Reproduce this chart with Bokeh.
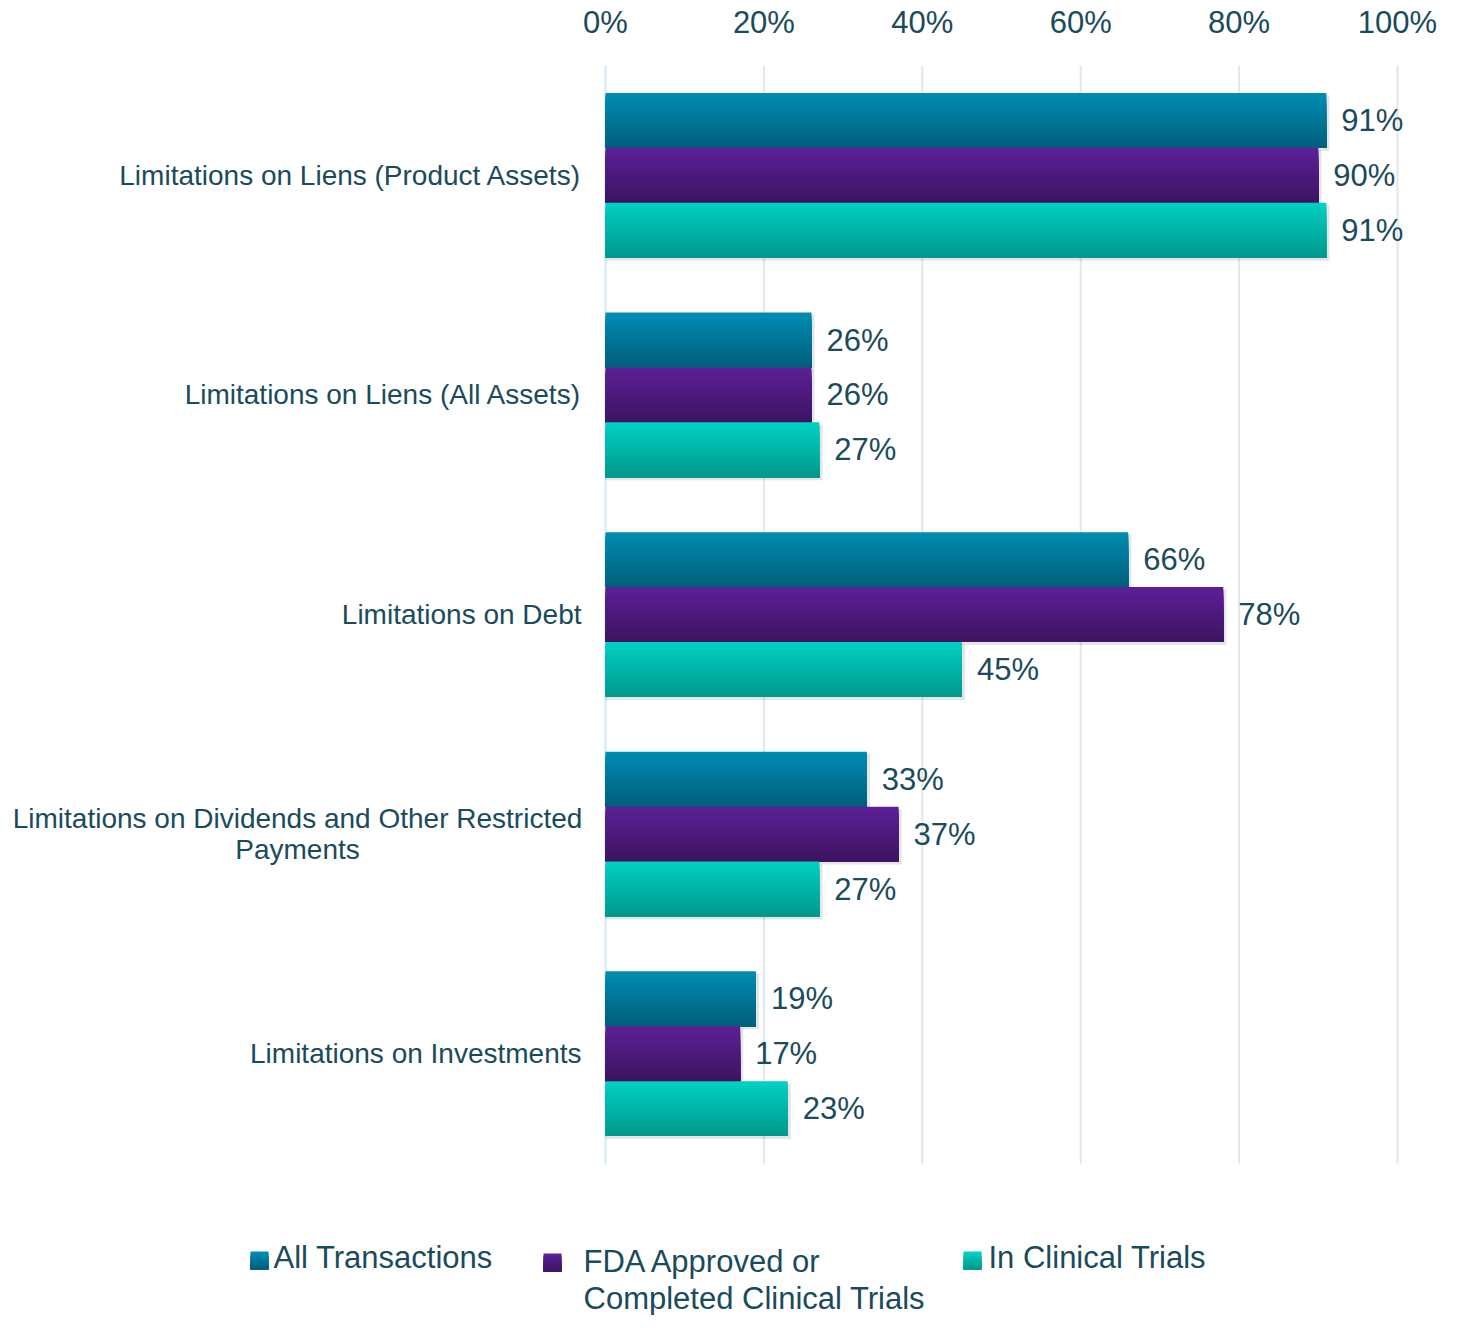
import numpy as np
from bokeh.plotting import figure
from bokeh.models import Range1d, FixedTicker
from bokeh.embed import file_html
from bokeh.resources import INLINE
from bokeh.core.properties import value

# ---------------- data ----------------
categories = [
    "Limitations on Liens (Product Assets)",
    "Limitations on Liens (All Assets)",
    "Limitations on Debt",
    "Limitations on Dividends and Other Restricted\nPayments",
    "Limitations on Investments",
]
series_names = ["All Transactions", "FDA Approved or\nCompleted Clinical Trials", "In Clinical Trials"]
all_transactions = [91, 26, 66, 33, 19]
fda_approved = [90, 26, 78, 37, 17]
in_clinical_trials = [91, 27, 45, 27, 23]
x_ticks = [0, 20, 40, 60, 80, 100]
x_tick_labels = ["0%", "20%", "40%", "60%", "80%", "100%"]

# ---------------- style ----------------
FONT = "Liberation Sans"
TXT = "#1a4b5c"
grad_top = ["#008cb2", "#5c1f96", "#00d0c2"]
grad_bot = ["#005f7c", "#3e1461", "#00998d"]
series_values = [all_transactions, fda_approved, in_clinical_trials]
bar_h = 0.25
n_strips = 24

W, H = 1441, 1315          # figure size
TOP = 65                   # top border for the axis
ZERO_PX = 605              # x pixel of 0 %
PX_PER_PCT = 7.92
PX_PER_CAT = 219.6
FRAME_H = H - TOP

x_start = -ZERO_PX / PX_PER_PCT
x_end = (W - ZERO_PX) / PX_PER_PCT
y_top = -0.5
y_bot = y_top + FRAME_H / PX_PER_CAT


def px2x(px):
    return (px - ZERO_PX) / PX_PER_PCT


def px2y(py):
    return (py - TOP) / PX_PER_CAT + y_top


def mix(c1, c2, t):
    a = [int(c1[i:i + 2], 16) for i in (1, 3, 5)]
    b = [int(c2[i:i + 2], 16) for i in (1, 3, 5)]
    return "#%02x%02x%02x" % tuple(int(round(a[j] + (b[j] - a[j]) * t)) for j in range(3))


p = figure(width=W, height=H, frame_width=W, frame_height=FRAME_H,
           x_range=Range1d(x_start, x_end), y_range=Range1d(y_bot, y_top),
           x_axis_location="above", y_axis_type=None,
           output_backend="svg", toolbar_location=None,
           min_border_left=0, min_border_right=0, min_border_top=TOP, min_border_bottom=0)
p.outline_line_color = None
p.xgrid.visible = False
p.ygrid.visible = False

n_cat = len(categories)
cat_idx = np.arange(n_cat)

# grid lines restricted to the plotting band
p.segment(x0=x_ticks, x1=x_ticks, y0=[-0.5] * len(x_ticks), y1=[n_cat - 0.5] * len(x_ticks),
          line_color=["#d3eaf3"] + ["#e4e6e8"] * (len(x_ticks) - 1), line_width=2)

# shadows
for s, vals in enumerate(series_values):
    base = cat_idx + (s - 1) * bar_h
    p.quad(left=0, right=np.array(vals) + 0.4, top=base - bar_h / 2 + 0.01,
           bottom=base + bar_h / 2 + 0.014, fill_color="#000000", fill_alpha=0.10, line_color=None)

# bars with vertical gradient (layered, no seams)
for s, vals in enumerate(series_values):
    base = cat_idx + (s - 1) * bar_h
    for k in range(n_strips):
        t = k / (n_strips - 1)
        p.quad(left=0, right=vals, top=base - bar_h / 2 + k * bar_h / n_strips,
               bottom=base + bar_h / 2, fill_color=mix(grad_top[s], grad_bot[s], t), line_color=None)
    p.text(x=vals, y=base, text=[f"{v}%" for v in vals], x_offset=15,
           text_align="left", text_baseline="middle", text_color=TXT,
           text_font=value(FONT), text_font_size="31px")

# category labels
single = [i for i, c in enumerate(categories) if "\n" not in c]
multi = [i for i, c in enumerate(categories) if "\n" in c]
p.text(x=[0] * len(single), y=[int(i) for i in single], text=[categories[i] for i in single],
       x_offset=-24, text_align="right", text_baseline="middle", text_color=TXT,
       text_font=value(FONT), text_font_size="28px")
p.text(x=[0] * len(multi), y=[int(i) for i in multi], text=[categories[i] for i in multi],
       x_offset=-308, text_align="center", text_baseline="middle", text_color=TXT,
       text_font=value(FONT), text_font_size="28px", text_line_height=1.0)

# top axis
xa = p.xaxis[0]
xa.ticker = FixedTicker(ticks=x_ticks)
xa.major_label_overrides = {t: l for t, l in zip(x_ticks, x_tick_labels)}
xa.axis_line_color = None
xa.major_tick_line_color = None
xa.minor_tick_line_color = None
xa.major_label_text_font = FONT
xa.major_label_text_font_size = "31px"
xa.major_label_text_color = TXT
xa.major_label_standoff = 20

# ---------------- legend ----------------
sq_left = [250, 543, 963]
sq_top = [1251, 1253, 1251]
sq_size = 18
txt_left = [273, 583, 988]
txt_top = [1239, 1243, 1239]
for s in range(3):
    n = 8
    for k in range(n):
        t = k / (n - 1)
        p.quad(left=px2x(sq_left[s]), right=px2x(sq_left[s] + sq_size),
               top=px2y(sq_top[s] + k * sq_size / n), bottom=px2y(sq_top[s] + sq_size),
               fill_color=mix(grad_top[s], grad_bot[s], t), line_color=None)
p.text(x=[px2x(v) for v in txt_left], y=[px2y(v) for v in txt_top], text=series_names,
       text_align="left", text_baseline="top", text_color=TXT,
       text_font=value(FONT), text_font_size="31px", text_line_height=1.08)

open("out.html", "w").write(file_html(p, INLINE))
